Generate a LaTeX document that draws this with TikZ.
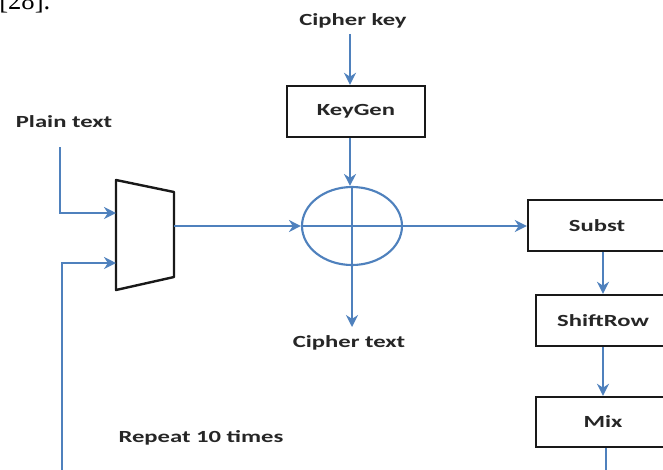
\documentclass[tikz,border=0pt]{standalone}
\usepackage{fontspec}
\setmainfont{Liberation Serif}
\newfontfamily\lblfont[FakeStretch=1.45]{Carlito}
\usepackage{tikz}
\usetikzlibrary{shapes}
\usetikzlibrary{positioning}
\usetikzlibrary{arrows.meta}
\definecolor{lineblue}{RGB}{79,129,189}
\tikzset{
    lbl/.style = {inner sep=1pt, text=black!85, font=\lblfont\bfseries\fontsize{12.75}{15}\selectfont},
    blk/.style = {rectangle, draw=black!90, line width=1.8pt, inner sep=0pt, fill=white, text=black!85, font=\lblfont\bfseries\fontsize{12.75}{15}\selectfont},
    xorn/.style = {ellipse, draw=lineblue, line width=1.6pt, inner sep=0pt, minimum width=75pt, minimum height=58.5pt},
    muxl/.style = {draw=black!90, line width=1.8pt, line join=round},
    lineb/.style = {draw=lineblue, line width=2.2pt},
    edgeb/.style = {-{Stealth[length=9pt,width=9pt]}, draw=lineblue, line width=2.2pt},
}

\begin{document}
\begin{tikzpicture}[x=0.75pt,y=-0.75pt]
\path[use as bounding box] (0,0) rectangle (663,469);
\clip (0,0) rectangle (663,469);
%
\node[anchor=base west, inner sep=0pt, font=\fontsize{20}{22}\selectfont] at (-1,9) (ref) {[28].};
%
\node[lbl] at (353,21) (ckey) {Cipher key};
\node[lbl] at (64,122) (ptext) {Plain text};
\node[lbl] at (349,343) (ctext) {Cipher text};
\node[lbl] at (201,438) (rep) {Repeat 10 times};
%
\node[blk,minimum width=103.5pt,minimum height=38.25pt] at (356,111.5) (keygen) {KeyGen};
\node[xorn] at (352,226) (xor) {};
\node[blk,minimum width=103.5pt,minimum height=38.25pt] at (597,225.5) (subst) {Subst};
\node[blk,minimum width=100.5pt,minimum height=38.25pt] at (603,320.5) (shiftrow) {ShiftRow};
\node[blk,minimum width=100.5pt,minimum height=37.5pt] at (603,422) (mix) {Mix};
%
% mux
\draw[muxl] (116,180) -- (174,192) -- (174,277) -- (116,290) -- cycle;
\coordinate (min1) at (116,213);
\coordinate (min2) at (116,263);
\coordinate (mout) at (174,226);
\coordinate (ptin) at (60,147);
\coordinate (loopin) at (62,480);
\coordinate (mixout) at (606,480);
\coordinate (cout) at (352,327);
%
\draw[edgeb] (ptin) |- (min1);
\draw[edgeb] (loopin) |- (min2);
\draw[edgeb] (mout) -- (xor.west);
\draw[edgeb] (ckey.south -| 350,0) ++(0,4) -- (keygen.north -| 350,0);
\draw[edgeb] (keygen.south -| 350,0) -- (xor.north -| 350,0);
\draw[edgeb] (xor.south) -- (cout);
\draw[edgeb] (xor.east) -- (subst.west |- xor.east);
\draw[edgeb] (subst.south -| shiftrow.north) -- (shiftrow.north);
\draw[edgeb] (shiftrow.south) -- (mix.north);
\draw[lineb] (mix.south -| mixout) -- (mixout);
% plus sign
\draw[lineb,line width=1.2pt] (xor.north) -- (xor.south);
\draw[lineb,line width=1.2pt] (xor.west) -- (xor.east);

\end{tikzpicture}
\end{document}
